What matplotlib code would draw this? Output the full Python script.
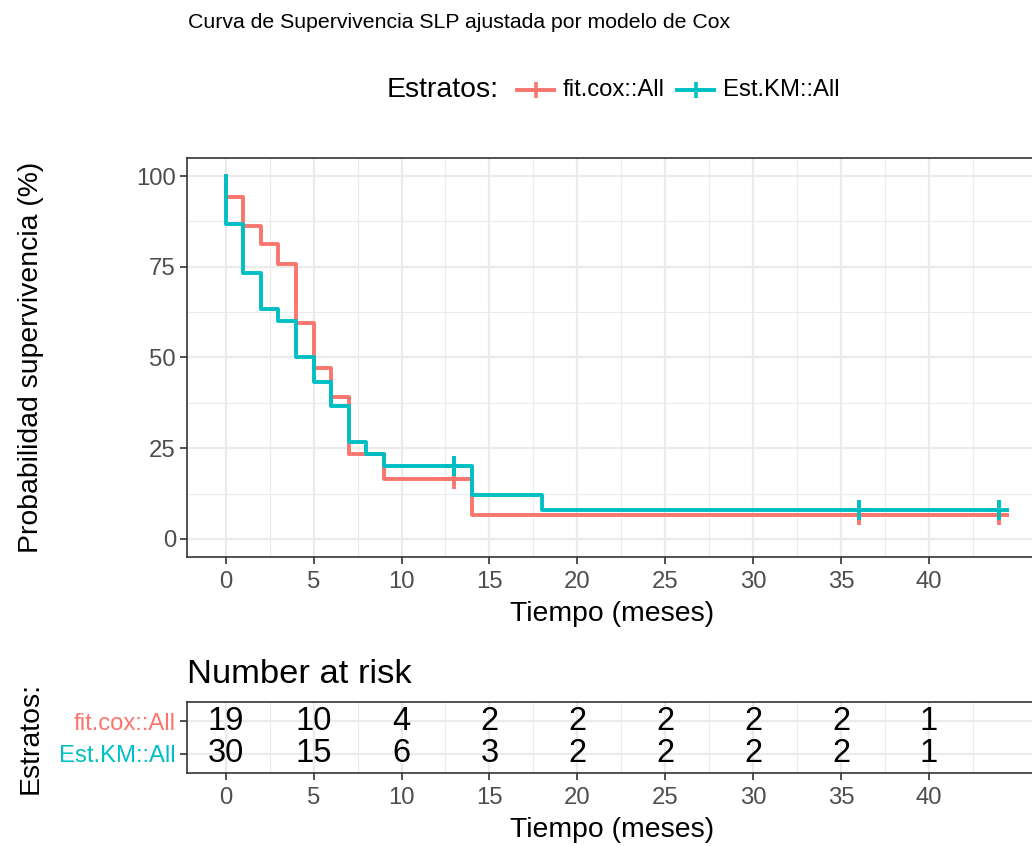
import matplotlib
matplotlib.use("Agg")
import matplotlib.pyplot as plt
from matplotlib.lines import Line2D
import numpy as np

plt.rcParams['font.family'] = ['Liberation Sans', 'DejaVu Sans']

# Survival curves (percent), step changes at event times
cox_times = [0, 0, 1, 2, 3, 4, 5, 6, 7, 9, 14]
cox_surv = [100, 94.2, 86.3, 81.3, 75.7, 59.5, 47.2, 39.0, 23.3, 16.5, 6.6]
km_times = [0, 0, 1, 2, 3, 4, 5, 6, 7, 8, 9, 14, 18]
km_surv = [100, 86.7, 73.3, 63.3, 60.0, 50.0, 43.3, 36.7, 26.7, 23.3, 20.0, 12.0, 8.0]
end_time = 44

# Censored observations
cox_cens_t = [13, 36, 44]
cox_cens_s = [16.5, 6.6, 6.6]
km_cens_t = [13, 36, 44]
km_cens_s = [20.0, 8.0, 8.0]

# Number at risk table
risk_times = [0, 5, 10, 15, 20, 25, 30, 35, 40]
strata = ["fit.cox::All", "Est.KM::All"]
risk_cox = [19, 10, 4, 2, 2, 2, 2, 2, 1]
risk_km = [30, 15, 6, 3, 2, 2, 2, 2, 1]

RED = "#F8766D"
TEAL = "#00BFC4"
GRID = "#EBEBEB"
TICK = "#4D4D4D"
BORDER = "#333333"

TICK_FS = 17.2
LABEL_FS = 20.4
LW = 2.8

W, H = 1032, 846
fig = plt.figure(figsize=(W / 100, H / 100), dpi=100)


def fx(px):
    return px / W


def fy(py):
    return 1 - py / H


def style_axes(ax):
    ax.set_facecolor("white")
    for s in ax.spines.values():
        s.set_color(BORDER)
        s.set_linewidth(1.2)
    ax.tick_params(axis='both', colors=BORDER, labelcolor=TICK,
                   labelsize=TICK_FS, length=5, width=1.2, pad=3)
    ax.tick_params(axis='x', pad=5)
    ax.grid(which='major', color=GRID, linewidth=1.6)
    ax.grid(which='minor', color=GRID, linewidth=0.8)
    ax.tick_params(which='minor', length=0)
    ax.set_axisbelow(True)


PANEL_L, PANEL_R = 187, 1038

# ---- survival panel ----
top, bottom = 158, 557
ax = fig.add_axes([fx(PANEL_L), fy(bottom), fx(PANEL_R - PANEL_L), (bottom - top) / H])
style_axes(ax)


def step_xy(times, surv):
    t = list(times) + [end_time]
    s = list(surv) + [surv[-1]]
    return t, s


t, s = step_xy(cox_times, cox_surv)
ax.step(t, s, where='post', color=RED, linewidth=LW, zorder=3)
t, s = step_xy(km_times, km_surv)
ax.step(t, s, where='post', color=TEAL, linewidth=LW, zorder=4)
ax.plot(cox_cens_t, cox_cens_s, linestyle='none', marker='+', color=RED,
        markersize=14, markeredgewidth=2.8, zorder=3)
ax.plot(km_cens_t, km_cens_s, linestyle='none', marker='+', color=TEAL,
        markersize=14, markeredgewidth=2.8, zorder=4)

ax.set_xlim(-2.2, 46.2)
ax.set_ylim(-5, 105)
ax.set_xticks(np.arange(0, 45, 5))
ax.set_xticks(np.arange(2.5, 46, 5), minor=True)
ax.set_yticks([0, 25, 50, 75, 100])
ax.set_yticks([12.5, 37.5, 62.5, 87.5], minor=True)
ax.set_xlabel("Tiempo (meses)", fontsize=LABEL_FS)
ax.set_ylabel("Probabilidad supervivencia (%)", fontsize=LABEL_FS)
ax.xaxis.set_label_coords(0.5, -(601 - bottom) / (bottom - top))
ax.yaxis.set_label_coords((44 - PANEL_L) / (PANEL_R - PANEL_L), 0.5)

# ---- title and legend ----
fig.text(fx(188), fy(22), "Curva de Supervivencia SLP ajustada por modelo de Cox",
         fontsize=15.3, va='center', ha='left')
fig.text(fx(387), fy(90), "Estratos:", fontsize=LABEL_FS, va='center', ha='left')
for x0, col, lab in [(517, RED, strata[0]), (677, TEAL, strata[1])]:
    fig.add_artist(Line2D([fx(x0), fx(x0 + 37)], [fy(90), fy(90)], color=col,
                          linewidth=LW, transform=fig.transFigure))
    fig.add_artist(Line2D([fx(x0 + 18.5)], [fy(90)], marker='+', color=col,
                          markersize=12, markeredgewidth=2.6,
                          transform=fig.transFigure))
    fig.text(fx(x0 + 46), fy(90), lab, fontsize=TICK_FS, va='center', ha='left')

# ---- risk table ----
rtop, rbottom = 702, 773
rax = fig.add_axes([fx(PANEL_L), fy(rbottom), fx(PANEL_R - PANEL_L), (rbottom - rtop) / H])
style_axes(rax)
rax.set_xlim(-2.2, 46.2)
rax.set_ylim(0.4, 2.6)
rax.set_xticks(np.arange(0, 45, 5))
rax.set_xticks(np.arange(2.5, 46, 5), minor=True)
rax.set_yticks([2, 1])
rax.set_yticklabels(strata)
for lbl, col in zip(rax.get_yticklabels(), [RED, TEAL]):
    lbl.set_color(col)
for xv, n in zip(risk_times, risk_cox):
    rax.text(xv, 2, str(n), fontsize=23.5, ha='center', va='center')
for xv, n in zip(risk_times, risk_km):
    rax.text(xv, 1, str(n), fontsize=23.5, ha='center', va='center')
rax.set_xlabel("Tiempo (meses)", fontsize=LABEL_FS)
rax.set_ylabel("Estratos:", fontsize=LABEL_FS)
rax.xaxis.set_label_coords(0.5, -(817 - rbottom) / (rbottom - rtop))
rax.yaxis.set_label_coords((44 - PANEL_L) / (PANEL_R - PANEL_L), 0.5)
rax.set_title("Number at risk", fontsize=24.8, loc='left', pad=14)

fig.savefig("out.png", dpi=100, facecolor="white")
